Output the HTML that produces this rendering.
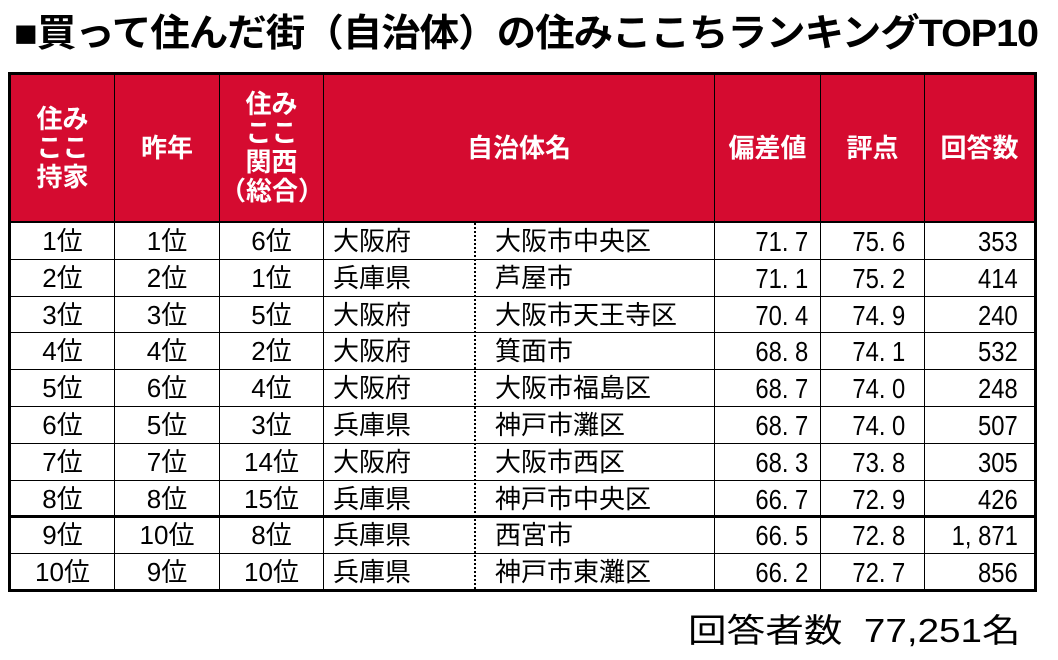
<!DOCTYPE html>
<html><head><meta charset="utf-8"><style>
body{margin:0;width:1058px;height:660px;background:#fff;position:relative;overflow:hidden;font-family:"Liberation Sans","Noto Sans CJK JP",sans-serif;}
.t{position:absolute;left:14px;top:2px;font-size:38px;font-weight:bold;white-space:nowrap;transform-origin:left top;transform:scaleX(1.04);letter-spacing:-1px}
.tb{position:absolute;left:8px;top:72px;width:1023px;height:514px;border:3px solid #000;}
.hd{position:absolute;left:0;top:0;width:1023px;height:146px;background:#d50b30;border-bottom:2px solid #000}
.vl{position:absolute;top:0;width:1px;height:514px;background:#000}
.hl{position:absolute;left:0;width:1023px;height:2px;background:#000}
.h{position:absolute;color:#fff;font-weight:bold;font-size:26px;line-height:29px;text-align:center;display:flex;align-items:center;justify-content:center;height:146px;top:0}
.c{position:absolute;font-size:26px;line-height:37px;height:37px;white-space:nowrap}
.foot{position:absolute;left:688px;top:604px;font-size:33px;white-space:nowrap;transform-origin:left top;transform:scaleX(1.17)}
</style></head><body>
<div class="t">■買って住んだ街（自治体）の住みここちランキングTOP10</div>
<div class="tb">
<div class="hd"></div>
<div class="vl" style="left:103px"></div>
<div class="vl" style="left:208px"></div>
<div class="vl" style="left:312px"></div>
<div class="vl" style="left:703px"></div>
<div class="vl" style="left:809px"></div>
<div class="vl" style="left:913px"></div>
<div style="position:absolute;left:463px;top:148px;height:366px;border-left:2px dotted #000"></div>
<div class="h" style="left:0;width:103px">住み<br>ここ<br>持家</div>
<div class="h" style="left:104px;width:104px">昨年</div>
<div class="h" style="left:209px;width:103px">住み<br>ここ<br>関西<br>（総合）</div>
<div class="h" style="left:313px;width:390px">自治体名</div>
<div class="h" style="left:704px;width:105px">偏差値</div>
<div class="h" style="left:810px;width:103px">評点</div>
<div class="h" style="left:914px;width:109px">回答数</div>
<div id="rows"></div>
</div>
<div class="foot">回答者数&nbsp; 77,251名</div>
<script>
var d=[["1位","1位","6位","大阪府","大阪市中央区","71.7","75.6","353"],
["2位","2位","1位","兵庫県","芦屋市","71.1","75.2","414"],
["3位","3位","5位","大阪府","大阪市天王寺区","70.4","74.9","240"],
["4位","4位","2位","大阪府","箕面市","68.8","74.1","532"],
["5位","6位","4位","大阪府","大阪市福島区","68.7","74.0","248"],
["6位","5位","3位","兵庫県","神戸市灘区","68.7","74.0","507"],
["7位","7位","14位","大阪府","大阪市西区","68.3","73.8","305"],
["8位","8位","15位","兵庫県","神戸市中央区","66.7","72.9","426"],
["9位","10位","8位","兵庫県","西宮市","66.5","72.8","1,871"],
["10位","9位","10位","兵庫県","神戸市東灘区","66.2","72.7","856"]];
var h="";
for(var i=0;i<10;i++){var y=148+i*36.8;var r=d[i];
if(i>0)h+='<div class="hl" style="top:'+(y-1)+'px;'+(i==8?'height:3px;top:'+(y-2)+'px':'height:1px')+'"></div>';
h+='<div class="c" style="top:'+y+'px;left:0;width:103px;text-align:center">'+r[0]+'</div>';
h+='<div class="c" style="top:'+y+'px;left:104px;width:104px;text-align:center">'+r[1]+'</div>';
h+='<div class="c" style="top:'+y+'px;left:209px;width:103px;text-align:center">'+r[2]+'</div>';
h+='<div class="c" style="top:'+y+'px;left:322px">'+r[3]+'</div>';
h+='<div class="c" style="top:'+y+'px;left:484px">'+r[4]+'</div>';
var m='font-size:28px;transform:scaleX(0.85);transform-origin:right;';
h+='<div class="c" style="top:'+y+'px;right:'+(1023-797)+'px;'+m+'">'+r[5].replace('.','. ')+'</div>';
h+='<div class="c" style="top:'+y+'px;right:'+(1023-894)+'px;'+m+'">'+r[6].replace('.','. ')+'</div>';
h+='<div class="c" style="top:'+y+'px;right:'+(1023-1007)+'px;'+m+'">'+r[7].replace(',',', ')+'</div>';
}
document.getElementById("rows").innerHTML=h;
</script>
</body></html>
